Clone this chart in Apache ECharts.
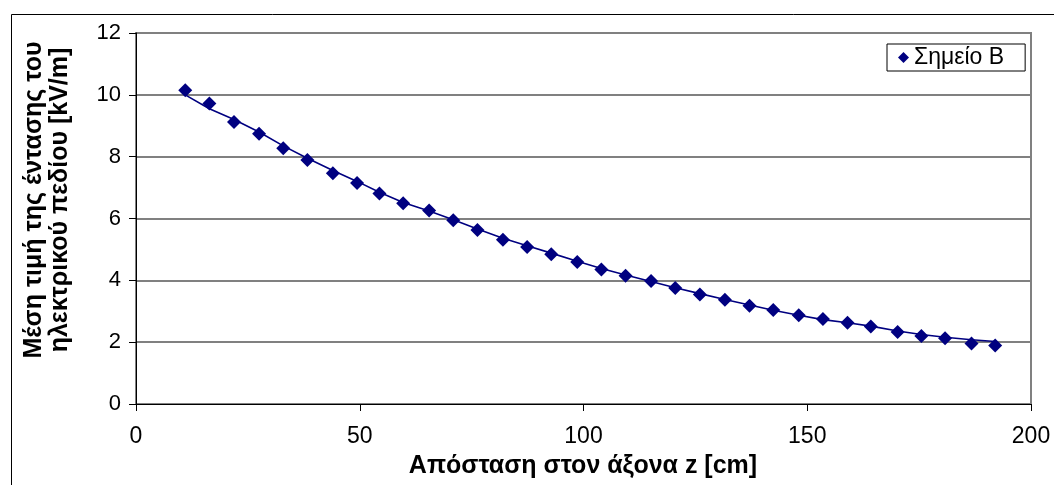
<!DOCTYPE html>
<html>
<head>
<meta charset="utf-8">
<script src="https://cdn.jsdelivr.net/npm/echarts@6/dist/echarts.min.js"></script>
<style>
  html, body { margin: 0; padding: 0; background: #ffffff; }
  #chart { width: 1054px; height: 485px; }
</style>
</head>
<body>
<div id="chart"></div>
<script>
// Distance along the z axis [cm]
var distances = [11.0, 16.4, 21.9, 27.5, 32.9, 38.3, 44.0, 49.4, 54.4, 59.7, 65.5,
                 70.9, 76.3, 82.0, 87.4, 92.8, 98.6, 104.0, 109.4, 115.1, 120.5, 126.0,
                 131.6, 137.1, 142.4, 148.1, 153.5, 159.0, 164.2, 170.2, 175.5, 180.8,
                 186.7, 192.0];
// Measured mean field strength at point B [kV/m]
var measured = [10.15, 9.72, 9.12, 8.74, 8.27, 7.89, 7.46, 7.15, 6.81, 6.49, 6.26,
                5.94, 5.63, 5.31, 5.08, 4.84, 4.59, 4.35, 4.15, 3.98, 3.75, 3.54,
                3.37, 3.18, 3.04, 2.87, 2.75, 2.63, 2.51, 2.33, 2.20, 2.13,
                1.96, 1.89];
// Fitted curve through the measurements [kV/m]
var fitted = [10.00, 9.55, 9.20, 8.80, 8.35, 7.95, 7.55, 7.20, 6.85, 6.52, 6.24,
              5.96, 5.66, 5.36, 5.12, 4.88, 4.62, 4.38, 4.17, 3.96, 3.76, 3.57,
              3.38, 3.20, 3.03, 2.87, 2.73, 2.63, 2.52, 2.36, 2.25, 2.16,
              2.08, 2.02];
var xTicks = [0, 50, 100, 150, 200];
var yTicks = [0, 2, 4, 6, 8, 10, 12];
var seriesName = 'Σημείο Β';
var xTitle = 'Απόσταση στον άξονα z [cm]';
var yTitle = ['Μέση τιμή της έντασης του', 'ηλεκτρικού πεδίου [kV/m]'];

function pairs(xs, ys) {
  return xs.map(function (x, i) { return [x, ys[i]]; });
}

var navy = '#000080';
var font = 'Liberation Sans, Arial, sans-serif';
var chart = echarts.init(document.getElementById('chart'));
chart.setOption({
  animation: false,
  backgroundColor: '#ffffff',
  textStyle: { fontFamily: font },
  grid: { left: 136, right: 23, top: 33, bottom: 81, containLabel: false,
          show: true, borderColor: '#808080', borderWidth: 2 },
  xAxis: {
    type: 'value',
    min: xTicks[0], max: xTicks[xTicks.length - 1], interval: 50,
    axisLine: { show: true, onZero: false, lineStyle: { color: '#000000', width: 1 } },
    axisTick: { show: true, inside: false, length: 7, lineStyle: { color: '#000000' } },
    axisLabel: { color: '#000000', fontSize: 23, margin: 21 },
    splitLine: { show: false }
  },
  yAxis: {
    type: 'value',
    min: yTicks[0], max: yTicks[yTicks.length - 1], interval: 2,
    axisLine: { show: true, onZero: false, lineStyle: { color: '#000000', width: 1 } },
    axisTick: { show: true, inside: false, length: 7, lineStyle: { color: '#000000' } },
    axisLabel: { color: '#000000', fontSize: 22, margin: 15 },
    splitLine: { show: true, lineStyle: { color: '#808080', width: 2 } }
  },
  legend: {
    data: [{ name: seriesName, icon: 'diamond', itemStyle: { color: navy, opacity: 1 } }],
    left: 887, top: 44,
    orient: 'vertical',
    backgroundColor: '#ffffff',
    borderColor: '#000000', borderWidth: 1, borderRadius: 0,
    padding: [2, 21, 2, 11],
    itemWidth: 11, itemHeight: 11, itemGap: 6,
    textStyle: { color: '#000000', fontSize: 23 }
  },
  graphic: [
    { type: 'rect', left: 9, top: 12, silent: true, z: -1,
      shape: { width: 1043, height: 480 },
      style: { fill: 'none', stroke: '#000000', lineWidth: 1 } },
    { type: 'text', x: 47, y: 200, rotation: Math.PI / 2, silent: true,
      style: { text: yTitle.join('\n'), fill: '#000000', align: 'center', verticalAlign: 'middle',
               font: 'bold 25px ' + font, lineHeight: 26 } },
    { type: 'text', x: 583, y: 466, silent: true,
      style: { text: xTitle, fill: '#000000', align: 'center', verticalAlign: 'middle',
               font: 'bold 25px ' + font } }
  ],
  series: [
    {
      name: 'fit', type: 'line', data: pairs(distances, fitted),
      showSymbol: false, symbol: 'none', smooth: false, z: 2,
      lineStyle: { color: navy, width: 1.6 }, silent: true
    },
    {
      name: seriesName, type: 'scatter', data: pairs(distances, measured),
      symbol: 'diamond', symbolSize: 14, z: 3,
      itemStyle: { color: navy, opacity: 1 }
    }
  ]
});
</script>
</body>
</html>
